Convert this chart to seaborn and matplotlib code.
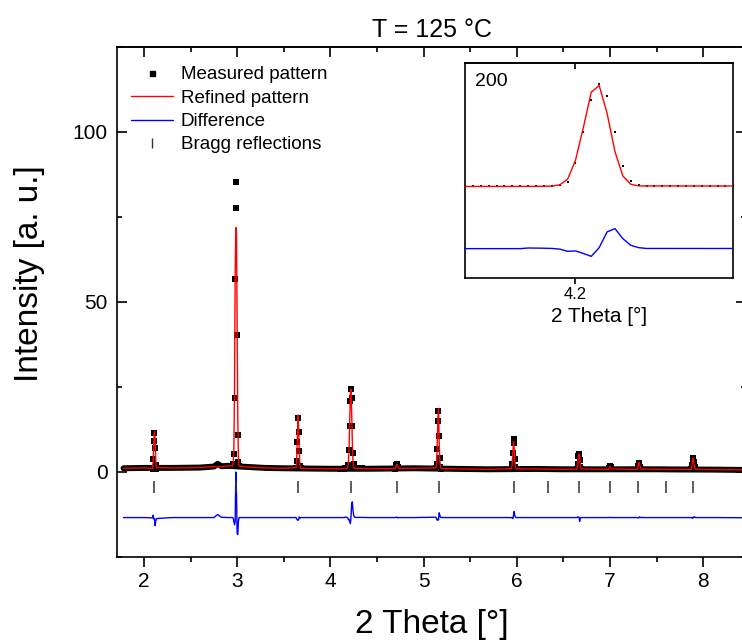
import numpy as np
import pandas as pd
import seaborn as sns
import matplotlib.pyplot as plt
from matplotlib.lines import Line2D
from matplotlib.ticker import MultipleLocator

# measuring step and offset of the difference curve
step = 0.007
diff_offset = -13.4

# background between the reflections: 2 Theta, measured, refined
bg_x = [1.78, 2.0, 2.3, 2.6, 2.75, 2.79, 2.83, 2.9, 3.1, 3.3, 3.5, 3.8, 4.0, 4.4,
        4.6, 4.9, 5.4, 5.7, 6.2, 6.5, 6.9, 7.2, 7.5, 7.7, 8.1, 8.46]
bg_obs = [1.1, 1.2, 1.2, 1.3, 1.6, 2.4, 1.7, 1.8, 1.5, 1.2, 1.1, 1.0, 0.95, 0.95,
          1.0, 1.1, 0.9, 0.8, 0.9, 0.8, 0.8, 0.8, 0.8, 0.75, 0.7, 0.6]
bg_calc = [1.1, 1.2, 1.2, 1.3, 1.6, 1.5, 1.6, 1.8, 1.5, 1.2, 1.1, 1.0, 0.95, 0.95,
           1.0, 1.1, 0.9, 0.8, 0.9, 0.8, 0.8, 0.8, 0.8, 0.75, 0.7, 0.65]

# reflections: 2 Theta of the highest measured point and the points around it
peak_hkl = ['100', '110', '111', '200', '210', '211', '220', '310', '311', '222', '321']
peak_top = [2.112, 2.985, 3.652, 4.221, 4.715, 5.160, 5.965, 6.668, 7.000, 7.310, 7.895]
peak_obs = [
    [1.0, 3.7, 9.1, 11.6, 7.2, 2.2, 1.0],
    [1.8, 2.4, 5.4, 21.9, 56.8, 85.3, 77.5, 40.3, 10.8, 3.0, 1.8],
    [1.3, 3.2, 8.9, 16.0, 11.9, 6.2, 1.8, 1.1],
    [0.95, 0.95, 0.95, 0.95, 0.95, 0.95, 0.95, 0.95, 1.1, 1.1, 1.1, 1.1, 1.2, 2.0,
     6.47, 13.48, 20.95, 24.5, 21.73, 13.63, 5.7, 2.23, 1.31, 1.12, 1.12, 1.12,
     1.12, 1.12, 1.12, 1.12, 1.12, 1.12, 1.12, 1.12, 1.12],
    [1.0, 1.5, 2.1, 2.3, 1.6, 1.1],
    [1.3, 2.3, 6.7, 15.0, 18.0, 10.6, 4.2, 1.5, 1.0],
    [1.0, 2.3, 5.7, 9.6, 8.4, 3.7, 1.4, 0.9],
    [0.9, 2.3, 4.6, 5.4, 3.5, 1.6, 0.9],
    [0.8, 1.3, 1.7, 1.4, 0.9],
    [0.8, 1.8, 2.7, 2.6, 1.6, 0.9],
    [0.8, 2.0, 3.7, 4.2, 2.8, 1.4, 0.8],
]
peak_calc = [
    [1.1, 3.0, 9.5, 12.0, 9.6, 3.2, 1.3],
    [1.8, 2.6, 6.5, 24.0, 58.0, 71.9, 70.0, 45.0, 15.8, 4.0, 1.8],
    [1.3, 3.6, 9.6, 16.8, 12.5, 6.0, 2.0, 1.1],
    [0.95, 0.95, 0.95, 0.95, 0.95, 0.95, 0.95, 0.95, 0.95, 0.97, 1.0, 1.05, 1.31, 2.62,
     7.0, 14.6, 22.73, 24.27, 17.87, 9.01, 3.39, 1.46, 1.08, 1.08, 1.08, 1.08,
     1.08, 1.08, 1.08, 1.08, 1.08, 1.08, 1.08, 1.08, 1.08],
    [1.0, 1.5, 2.0, 2.2, 1.7, 1.1],
    [1.2, 2.6, 7.5, 15.5, 18.7, 9.2, 3.5, 1.3, 1.0],
    [1.0, 2.5, 6.0, 9.0, 6.6, 3.2, 1.2, 0.9],
    [0.9, 2.1, 4.5, 5.3, 4.6, 1.7, 0.9],
    [0.8, 1.3, 1.6, 1.4, 0.9],
    [0.8, 1.9, 2.8, 2.4, 1.5, 0.9],
    [0.8, 2.2, 3.9, 4.0, 2.7, 1.2, 0.8],
]

# positions of the Bragg reflections
bragg_pos = [2.11, 2.985, 3.655, 4.22, 4.715, 5.165, 5.965, 6.33, 6.67, 7.0, 7.305, 7.605, 7.89]
bragg_level = -4.4

# build the tables
rows = []
ranges = []
for hkl, top, o, c in zip(peak_hkl, peak_top, peak_obs, peak_calc):
    k = int(np.argmax(o))
    xs = top + (np.arange(len(o)) - k) * step
    ranges.append((xs[0], xs[-1]))
    for xv, ov, cv in zip(xs, o, c):
        rows.append((xv, ov, cv, hkl))
pts = pd.DataFrame(rows, columns=['tt', 'obs', 'calc', 'hkl'])

bg = pd.DataFrame({'tt': bg_x, 'obs': bg_obs, 'calc': bg_calc})
inside = np.zeros(len(bg), dtype=bool)
for a, b in ranges:
    inside |= (bg['tt'] >= a) & (bg['tt'] <= b)
bg = bg[~inside]

full = pd.concat([bg, pts[['tt', 'obs', 'calc']]]).sort_values('tt').reset_index(drop=True)
full['diff'] = full['obs'] - full['calc'] + diff_offset
bragg = pd.DataFrame({'tt': bragg_pos, 'y': [bragg_level] * len(bragg_pos)})

sns.set_theme(style='ticks')
plt.rcParams['font.family'] = ['Liberation Sans', 'DejaVu Sans']
plt.rcParams['axes.linewidth'] = 1.2
for key in ['text.color', 'axes.labelcolor', 'xtick.color', 'ytick.color', 'axes.edgecolor']:
    plt.rcParams[key] = 'black'

fig = plt.figure(figsize=(7.42, 6.42), dpi=100)
ax = fig.add_axes([0.1577, 0.1324, 0.8477, 0.7944])

# measured pattern: dense band of points plus the points on the peaks
sns.lineplot(data=bg, x='tt', y='obs', color='black', lw=4.3, ax=ax, estimator=None, zorder=1)
sns.scatterplot(data=pts, x='tt', y='obs', marker='s', s=14, color='black', linewidth=0,
                ax=ax, zorder=2)
sns.lineplot(data=full, x='tt', y='calc', color='red', lw=1, ax=ax, estimator=None, zorder=3)
sns.lineplot(data=full, x='tt', y='diff', color='blue', lw=1, ax=ax, estimator=None, zorder=3)
sns.scatterplot(data=bragg, x='tt', y='y', marker='|', s=75, color='#333333', linewidth=1.1,
                ax=ax, zorder=4)

ax.set_xlim(1.71, 8.46)
ax.set_ylim(-25, 125)
ax.xaxis.set_major_locator(MultipleLocator(1))
ax.xaxis.set_minor_locator(MultipleLocator(0.5))
ax.yaxis.set_major_locator(MultipleLocator(50))
ax.yaxis.set_minor_locator(MultipleLocator(25))
ax.tick_params(axis='x', which='both', direction='out', top=False, labelsize=15)
ax.tick_params(axis='y', which='both', direction='in', right=True, labelsize=15, pad=6.5)
ax.tick_params(which='major', length=7, width=1.2)
ax.tick_params(which='minor', length=3.5, width=1.2)
sec = ax.secondary_xaxis('top')
sec.xaxis.set_major_locator(MultipleLocator(1))
sec.xaxis.set_minor_locator(MultipleLocator(0.5))
sec.tick_params(axis='x', which='both', direction='in', labeltop=False)
sec.tick_params(which='major', length=7, width=1.2)
sec.tick_params(which='minor', length=3.5, width=1.2)
for side in ['top', 'right', 'left', 'bottom']:
    ax.spines[side].set_visible(True)

ax.set_xlabel('2 Theta [°]', fontsize=24)
ax.set_ylabel('Intensity [a. u.]', fontsize=24)
ax.xaxis.set_label_coords(0.5, -0.102)
ax.yaxis.set_label_coords(-0.115, 0.555)
ax.set_title('T = 125 °C', fontsize=18, pad=7)

handles = [
    Line2D([], [], ls='', marker='s', ms=3.6, color='black'),
    Line2D([], [], color='red', lw=1),
    Line2D([], [], color='blue', lw=1),
    Line2D([], [], ls='', marker='|', ms=7, mew=1, color='#333333'),
]
labels = ['Measured pattern', 'Refined pattern', 'Difference', 'Bragg reflections']
ax.legend(handles, labels, loc='upper left', bbox_to_anchor=(0.022, 0.962), frameon=False,
          fontsize=13.5, borderpad=0, borderaxespad=0, handlelength=2.25,
          handletextpad=0.4, labelspacing=0.33)

# inset with the 200 reflection
axin = fig.add_axes([0.6267, 0.5675, 0.3616, 0.334])
p200 = pts[pts['hkl'] == '200']
sns.scatterplot(data=p200, x='tt', y='obs', marker='s', s=3.5, color='black', linewidth=0,
                ax=axin, zorder=2)
sns.lineplot(data=full, x='tt', y='calc', color='red', lw=1, ax=axin, estimator=None, zorder=3)
sns.lineplot(data=full, x='tt', y='diff', color='blue', lw=1, ax=axin, estimator=None, zorder=3)
axin.set_xlim(4.102, 4.34)
axin.set_ylim(-20.1, 29.4)
axin.set_xticks([4.2])
axin.set_xticklabels(['4.2'])
axin.set_yticks([])
axin.tick_params(axis='x', direction='out', length=4.5, width=1.2, labelsize=12, pad=2.5)
sec_in = axin.secondary_xaxis('top')
sec_in.set_xticks([4.2])
sec_in.tick_params(axis='x', direction='in', length=4.5, width=1.2, labeltop=False)
axin.set_xlabel('2 Theta [°]', fontsize=15, labelpad=3)
axin.set_ylabel('')
axin.text(0.037, 0.955, '200', transform=axin.transAxes, fontsize=14, va='top', ha='left')

fig.savefig('out.png', dpi=100)
